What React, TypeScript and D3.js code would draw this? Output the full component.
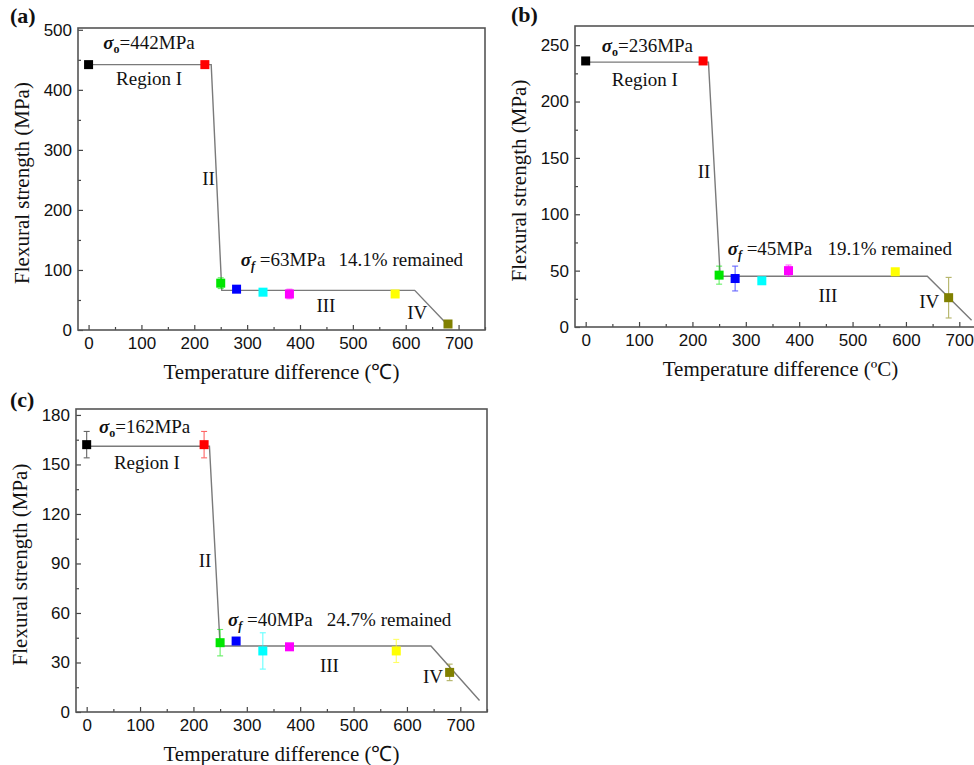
import React, { useEffect, useRef } from "react";
import * as d3 from "d3";

// shared x positions (temperature difference, ℃) and marker colours
const temps = [0, 220, 250, 280, 330, 380, 580, 680];
const markerColors = ["#000000", "#ff0000", "#00e600", "#0000ff", "#00ffff", "#ff00ff", "#ffff00", "#808000"];
const xTicks = [0, 100, 200, 300, 400, 500, 600, 700];

// (a)
const strengthA = [442, 442, 78, 68, 63, 60, 60, 10];
const errorA = [0, 0, 9, 3, 3, 8, 3, 3];
const fitXA = [0, 232, 252, 617, 680];
const fitYA = [442, 442, 66, 66, 8];
const yTicksA = [0, 100, 200, 300, 400, 500];

// (b)
const strengthB = [236, 236, 46, 43, 41, 50, 49, 26];
const errorB = [0, 0, 8, 11, 2, 5, 2, 18];
const fitXB = [0, 230, 252, 640, 723];
const fitYB = [235, 235, 45, 45, 6];
const yTicksB = [0, 50, 100, 150, 200, 250];

// (c)
const strengthC = [162, 162, 42, 43, 37, 39.5, 37, 24];
const errorC = [8, 8, 8, 1, 11, 1, 7, 5];
const fitXC = [0, 230, 250, 645, 736];
const fitYC = [161, 161, 40, 40, 7];
const yTicksC = [0, 30, 60, 90, 120, 150, 180];

const serif = "'Liberation Serif', 'Times New Roman', serif";
const sans = "'Liberation Sans', Arial, sans-serif";

const panels = [
  {
    tag: "(a)", tagX: 10, tagY: 23,
    left: 78, top: 28, right: 485, bottom: 330, yMax: 503,
    values: strengthA, errors: errorA, fitX: fitXA, fitY: fitYA, yTicks: yTicksA,
    xTitle: "Temperature difference (\u2103)",
    sigmaO: "=442MPa", sigmaF: " =63MPa", remained: "14.1% remained",
    notes: { o: [28, 468], region: [52, 408], ii: [215, 241], f: [288, 107], rem: [473, 107], iii: [431, 30], iv: [603, 18] },
  },
  {
    tag: "(b)", tagX: 511, tagY: 22,
    left: 575, top: 26, right: 986, bottom: 327, yMax: 267,
    values: strengthB, errors: errorB, fitX: fitXB, fitY: fitYB, yTicks: yTicksB,
    xTitle: "Temperature difference (\u00baC)",
    sigmaO: "=236MPa", sigmaF: " =45MPa", remained: "19.1% remained",
    notes: { o: [30, 244], region: [49, 214], ii: [210, 132], f: [266, 64], rem: [453, 64], iii: [436, 22], iv: [625, 17] },
  },
  {
    tag: "(c)", tagX: 10, tagY: 407,
    left: 76, top: 409, right: 487, bottom: 712, yMax: 183.6,
    values: strengthC, errors: errorC, fitX: fitXC, fitY: fitYC, yTicks: yTicksC,
    xTitle: "Temperature difference (\u2103)",
    sigmaO: "=162MPa", sigmaF: " =40MPa", remained: "24.7% remained",
    notes: { o: [23, 169], region: [51, 147], ii: [210, 88], f: [265, 52], rem: [450, 52], iii: [437, 24], iv: [630, 17.5] },
  },
];

export default function App() {
  const svgRef = useRef<SVGSVGElement>(null);

  useEffect(() => {
    const svg = d3.select(svgRef.current);
    svg.selectAll("*").remove();
    svg.append("rect").attr("width", 974).attr("height", 765).attr("fill", "#fff");

    panels.forEach((p) => {
      const x = d3.scaleLinear().domain([-20, 750]).range([p.left, p.right]);
      const y = d3.scaleLinear().domain([0, p.yMax]).range([p.bottom, p.top]);
      const g = svg.append("g");
      const yStep = p.yTicks[1] - p.yTicks[0];

      // axes, ticks inside
      const xAx = g.append("g").attr("transform", `translate(0,${p.bottom})`)
        .call(d3.axisBottom(x).tickValues(xTicks).tickSize(-5).tickPadding(7));
      g.append("g").attr("transform", `translate(0,${p.bottom})`)
        .call(d3.axisBottom(x).tickValues(xTicks.map((t) => t + 50)).tickSize(-3).tickFormat(() => ""));
      const yAx = g.append("g").attr("transform", `translate(${p.left},0)`)
        .call(d3.axisLeft(y).tickValues(p.yTicks).tickSize(-5).tickPadding(6));
      g.append("g").attr("transform", `translate(${p.left},0)`)
        .call(d3.axisLeft(y).tickValues(p.yTicks.slice(0, -1).map((t) => t + yStep / 2)).tickSize(-3).tickFormat(() => ""));
      g.selectAll(".domain").remove();
      g.selectAll(".tick line").attr("stroke", "#444").attr("stroke-width", 1.2);
      [xAx, yAx].forEach((a) => a.selectAll("text").attr("font-family", sans).attr("font-size", 17).attr("fill", "#111"));

      g.append("rect").attr("x", p.left).attr("y", p.top)
        .attr("width", p.right - p.left).attr("height", p.bottom - p.top)
        .attr("fill", "none").attr("stroke", "#555").attr("stroke-width", 1.6);

      // fitted trend line
      const fit = p.fitX.map((v, i) => [v, p.fitY[i]] as [number, number]);
      g.append("path").datum(fit)
        .attr("d", d3.line().x((d) => x(d[0])).y((d) => y(d[1])))
        .attr("fill", "none").attr("stroke", "#7a7a7a").attr("stroke-width", 1.4);

      // error bars + square markers
      temps.forEach((t, i) => {
        const v = p.values[i], e = p.errors[i], c = markerColors[i];
        if (e > 0) {
          const eg = g.append("g").attr("stroke", c).attr("stroke-width", 1.1).attr("opacity", 0.6);
          eg.append("line").attr("x1", x(t)).attr("x2", x(t)).attr("y1", y(v - e)).attr("y2", y(v + e));
          eg.append("line").attr("x1", x(t) - 3).attr("x2", x(t) + 3).attr("y1", y(v - e)).attr("y2", y(v - e));
          eg.append("line").attr("x1", x(t) - 3).attr("x2", x(t) + 3).attr("y1", y(v + e)).attr("y2", y(v + e));
        }
        g.append("rect").attr("x", x(t) - 4.5).attr("y", y(v) - 4.5)
          .attr("width", 9).attr("height", 9).attr("fill", c);
      });

      // annotations
      const txt = (pos: number[], s: string) =>
        g.append("text").attr("x", x(pos[0])).attr("y", y(pos[1]))
          .attr("font-family", serif).attr("font-size", 19).attr("fill", "#111").text(s);

      const so = g.append("text").attr("x", x(p.notes.o[0])).attr("y", y(p.notes.o[1]))
        .attr("font-family", serif).attr("font-size", 19).attr("fill", "#111");
      so.append("tspan").attr("font-style", "italic").attr("font-weight", "bold").text("\u03c3");
      so.append("tspan").attr("font-size", 12).attr("font-weight", "bold").attr("dy", 4).text("o");
      so.append("tspan").attr("dy", -4).text(p.sigmaO);

      const sf = g.append("text").attr("x", x(p.notes.f[0])).attr("y", y(p.notes.f[1]))
        .attr("font-family", serif).attr("font-size", 19).attr("fill", "#111");
      sf.append("tspan").attr("font-style", "italic").attr("font-weight", "bold").text("\u03c3");
      sf.append("tspan").attr("font-size", 12).attr("font-style", "italic").attr("font-weight", "bold").attr("dy", 4).text("f");
      sf.append("tspan").attr("dy", -4).text(p.sigmaF);

      txt(p.notes.rem, p.remained);
      txt(p.notes.region, "Region I");
      txt(p.notes.ii, "II");
      txt(p.notes.iii, "III");
      txt(p.notes.iv, "IV");

      // axis titles
      g.append("text").attr("x", x(365)).attr("y", p.bottom + 49).attr("text-anchor", "middle")
        .attr("font-family", serif).attr("font-size", 21).attr("fill", "#111").text(p.xTitle);
      const cy = (p.top + p.bottom) / 2 + 4;
      g.append("text").attr("transform", `translate(${p.left - 56},${cy}) rotate(-90)`)
        .attr("text-anchor", "middle").attr("dominant-baseline", "central")
        .attr("font-family", serif).attr("font-size", 21).attr("fill", "#111").text("Flexural strength (MPa)");

      // panel tag
      svg.append("text").attr("x", p.tagX).attr("y", p.tagY)
        .attr("font-family", serif).attr("font-size", 22).attr("font-weight", "bold").attr("fill", "#111").text(p.tag);
    });
  }, []);

  return (
    <svg ref={svgRef} width={974} height={765}
      style={{ position: "absolute", left: 0, top: 0, display: "block" }} />
  );
}
